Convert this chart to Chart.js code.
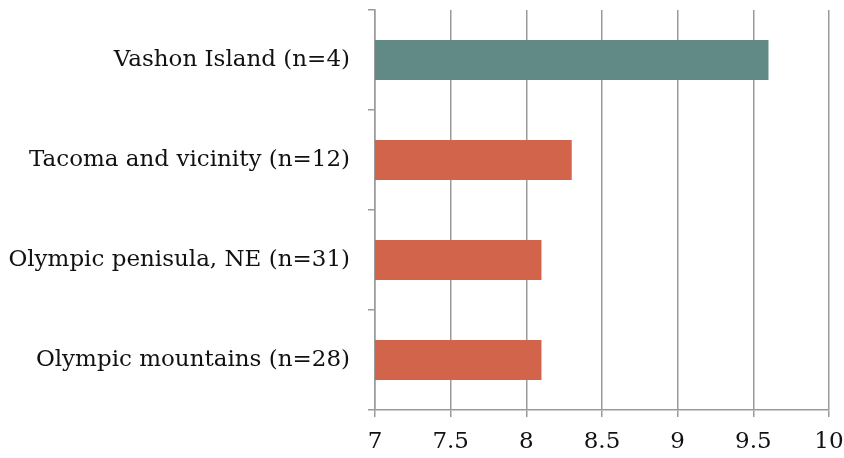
<!DOCTYPE html>
<html>
<head>
<meta charset="utf-8">
<script src="https://cdn.jsdelivr.net/npm/chart.js@4"></script>
<style>
  html, body { margin: 0; padding: 0; background: #fff; }
  #wrap { width: 844px; height: 458px; }
</style>
</head>
<body>
<div id="wrap"><canvas id="grafico"></canvas></div>
<script>
// Datos del gráfico
const categorias = ["Vashon Island (n=4)", "Tacoma and vicinity (n=12)", "Olympic penisula, NE (n=31)", "Olympic mountains (n=28)"]
const valores = [9.6, 8.3, 8.1, 8.1]
const coloresBarras = ["#618a87", "#d2644b", "#d2644b", "#d2644b"]
const ticksX = [7, 7.5, 8, 8.5, 9, 9.5, 10]

const fuente = { family: "'DejaVu Serif', 'Liberation Serif', serif", size: 23 }
const gris = "#9a9a9a"

new Chart(document.getElementById("grafico"), {
  type: "bar",
  data: {
    labels: categorias,
    datasets: [
      {
        data: valores,
        backgroundColor: coloresBarras,
        borderWidth: 0,
        barPercentage: 0.4,
        categoryPercentage: 1,
      },
    ],
  },
  options: {
    indexAxis: "y",
    responsive: true,
    maintainAspectRatio: false,
    animation: false,
    layout: { padding: { top: 10, right: 15, left: 0, bottom: 0 } },
    plugins: {
      legend: { display: false },
      tooltip: { enabled: false },
    },
    scales: {
      x: {
        min: 7,
        max: 10,
        afterBuildTicks: (scale) => {
          scale.ticks = ticksX.map((v) => ({ value: v }))
        },
        afterFit: (scale) => {
          // alto fijo y sin relleno extra a los lados
          scale.height = 48
          scale.paddingLeft = 0
          scale.paddingRight = 0
        },
        ticks: {
          color: "#111",
          font: fuente,
          padding: 11,
          maxRotation: 0,
          callback: (v) => String(v),
        },
        grid: {
          color: gris,
          lineWidth: 1.5,
          tickLength: 7,
          drawOnChartArea: true,
        },
        border: { color: gris, width: 1.5 },
      },
      y: {
        offset: true,
        afterFit: (scale) => {
          scale.width = 375
          scale.paddingTop = 0
          scale.paddingBottom = 0
        },
        ticks: {
          color: "#111",
          font: fuente,
          padding: 18,
        },
        grid: {
          offset: true,
          color: gris,
          lineWidth: 1.5,
          tickLength: 7,
          drawOnChartArea: false,
        },
        border: { color: gris, width: 1.5 },
      },
    },
  },
})
</script>
</body>
</html>
